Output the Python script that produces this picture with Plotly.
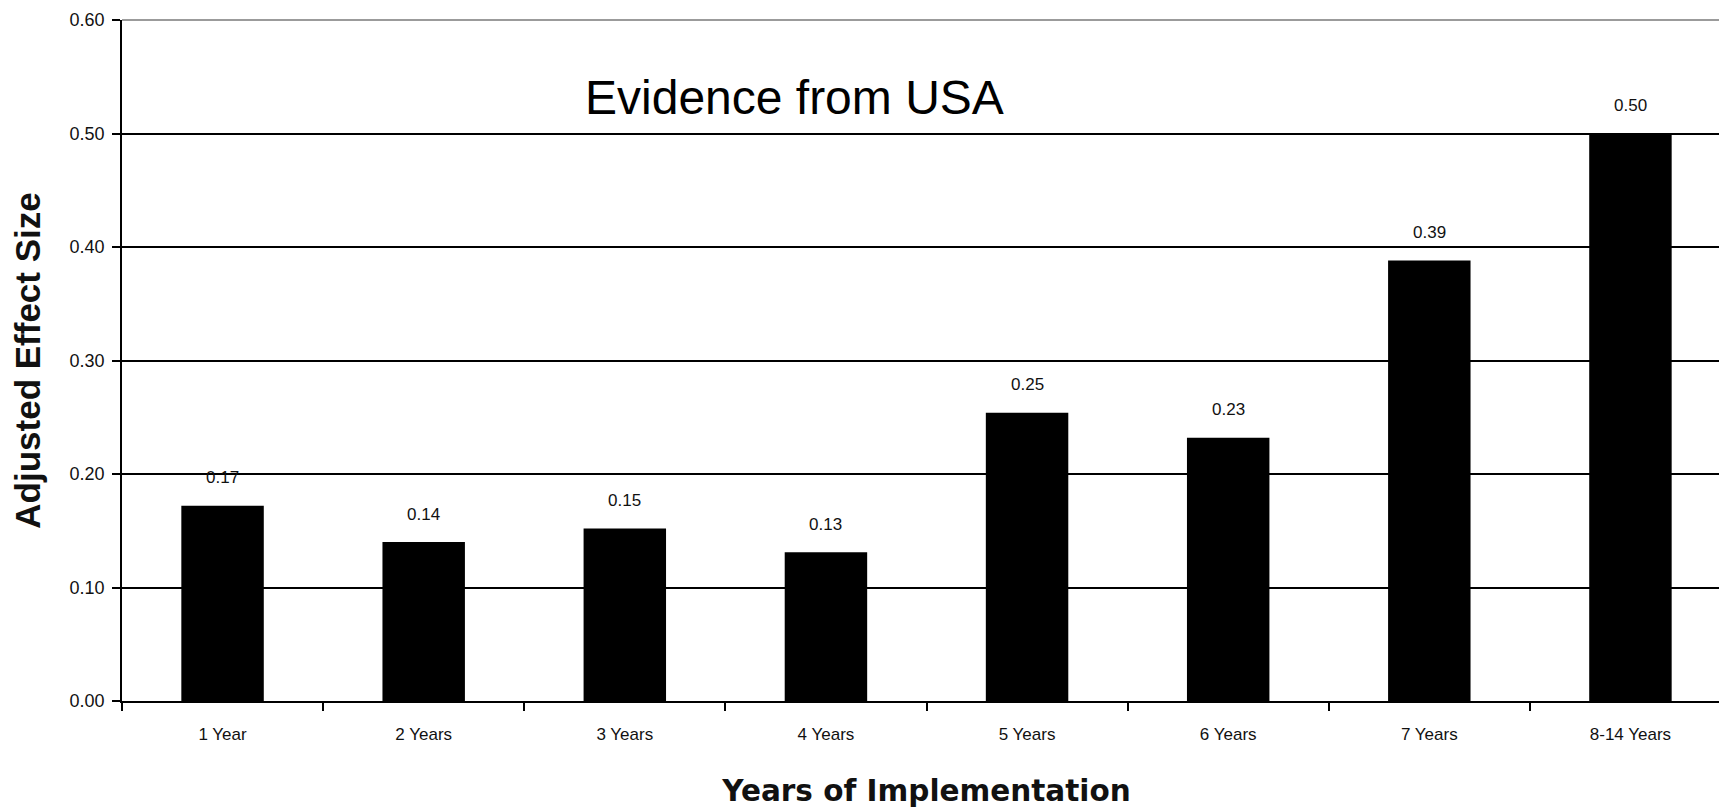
import plotly.graph_objects as go

categories = ["1Year", "2Years", "3Years", "4Years", "5Years", "6Years", "7Years", "8-14Years"]
tick_labels = ["1 Year", "2 Years", "3 Years", "4 Years", "5 Years", "6 Years", "7 Years", "8-14 Years"]
effect_sizes = [0.172, 0.140, 0.152, 0.131, 0.254, 0.232, 0.388, 0.500]
value_labels = ["0.17", "0.14", "0.15", "0.13", "0.25", "0.23", "0.39", "0.50"]
y_ticks = [0.0, 0.1, 0.2, 0.3, 0.4, 0.5, 0.6]

FONT = "Liberation Sans, Arial, sans-serif"

fig = go.Figure()
fig.add_trace(go.Bar(
    x=tick_labels,
    y=effect_sizes,
    marker=dict(color="black", line=dict(color="black", width=0)),
    hoverinfo="x+y",
))

for cat, val, lab in zip(tick_labels, effect_sizes, value_labels):
    fig.add_annotation(
        x=cat, y=val, text=lab, showarrow=False,
        yanchor="middle", yshift=28,
        font=dict(family=FONT, size=17, color="#111"),
    )

fig.add_annotation(
    xref="paper", yref="paper", x=0.418, y=0.886,
    text="Evidence from USA", showarrow=False,
    xanchor="center", yanchor="middle",
    font=dict(family=FONT, size=48, color="black"),
)

# gray top/right frame
fig.add_shape(type="line", xref="paper", yref="paper", x0=0, x1=1, y0=1, y1=1,
              line=dict(color="#7a7a7a", width=1.5), layer="above")
fig.add_shape(type="line", xref="paper", yref="paper", x0=1, x1=1, y0=0, y1=1,
              line=dict(color="#7a7a7a", width=1.5), layer="above")

fig.update_layout(
    width=1727, height=810,
    margin=dict(l=114, r=4, t=12, b=117),
    paper_bgcolor="white", plot_bgcolor="white",
    bargap=0.59,
    showlegend=False,
    font=dict(family=FONT, color="black"),
)

fig.update_xaxes(
    type="category",
    tickson="boundaries",
    ticks="outside", ticklen=8, tickwidth=1.5, tickcolor="black",
    showline=True, linecolor="black", linewidth=1.5,
    showgrid=False,
    tickfont=dict(family=FONT, size=17, color="#111"),
    ticklabelstandoff=17,
    title=dict(text="<b>Years of Implementation</b>",
               font=dict(family="DejaVu Sans, sans-serif", size=29.5, color="#111"),
               standoff=37),
    automargin=False,
)

fig.update_yaxes(
    range=[0, 0.6],
    tickvals=y_ticks,
    tickformat=".2f",
    ticks="outside", ticklen=8, tickwidth=1.5, tickcolor="black",
    showline=True, linecolor="black", linewidth=1.5,
    showgrid=True, gridcolor="black", gridwidth=1.5,
    zeroline=False,
    tickfont=dict(family=FONT, size=18, color="#111"),
    ticklabelstandoff=4,
    ticklabeloverflow="allow",
    title=dict(text="<b>Adjusted Effect Size</b>",
               font=dict(family=FONT, size=35, color="#111"),
               standoff=20),
    automargin=False,
)

fig.write_html("out.html")
